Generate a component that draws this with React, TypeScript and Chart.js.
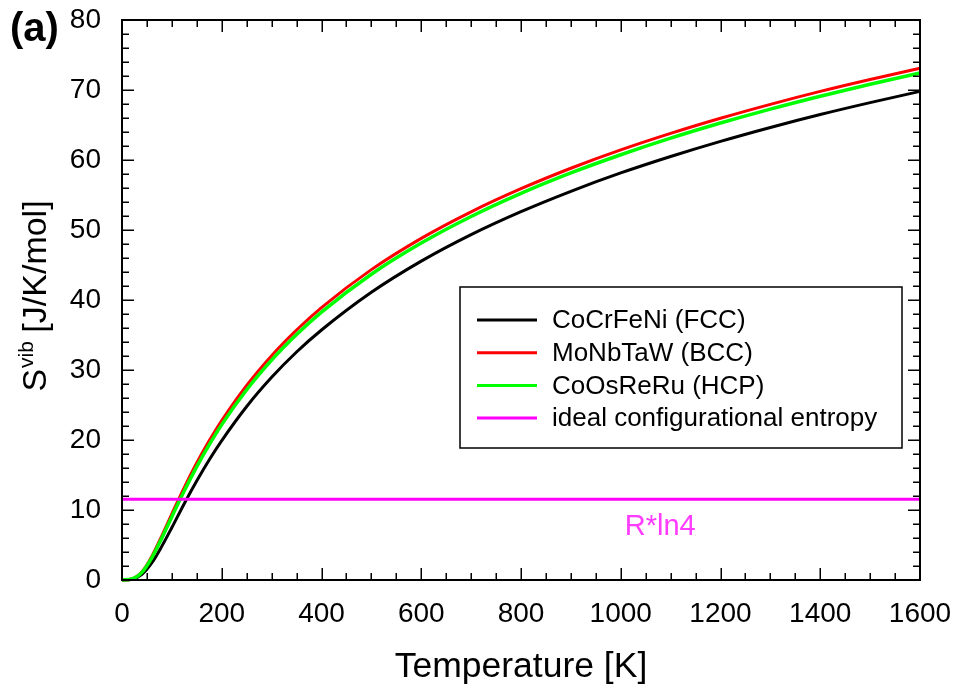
import React, { useEffect, useRef } from 'react';
import { Chart, registerables } from 'chart.js';

Chart.register(...registerables);

// ---- data ----
const temperatures = [0, 20, 40, 60, 80, 100, 125, 150, 175, 200, 250, 300, 350, 400, 500, 600, 700, 800, 900, 1000, 1100, 1200, 1300, 1400, 1500, 1600];
const fccValues = [0, 0.1, 0.81, 2.47, 4.84, 7.5, 10.94, 14.17, 17.18, 19.92, 24.79, 28.95, 32.57, 35.71, 41.1, 45.55, 49.34, 52.62, 55.53, 58.15, 60.5, 62.66, 64.65, 66.5, 68.2, 69.8];
const bccValues = [0, 0.15, 1.18, 3.41, 6.35, 9.46, 13.24, 16.74, 19.91, 22.79, 27.81, 32.05, 35.71, 38.92, 44.34, 48.81, 52.6, 55.9, 58.82, 61.44, 63.8, 65.96, 67.95, 69.8, 71.5, 73.1];
const hcpValues = [0, 0.14, 1.09, 3.2, 6.02, 9.05, 12.75, 16.2, 19.33, 22.2, 27.18, 31.41, 35.06, 38.26, 43.68, 48.13, 51.93, 55.23, 58.15, 60.75, 63.12, 65.28, 67.27, 69.11, 70.82, 72.44];
const idealTemperatures = [0, 1600];
const idealValues = [11.53, 11.53];

const seriesLabels = ['CoCrFeNi (FCC)', 'MoNbTaW (BCC)', 'CoOsReRu (HCP)', 'ideal configurational entropy'];
const seriesColors = ['#000000', '#ff0000', '#00ff00', '#ff00ff'];

const xMin = 0, xMax = 1600, xStep = 200, xMinorStep = 50;
const yMin = 0, yMax = 80, yStep = 10, yMinorStep = 2;

const annotationText = 'R*ln4';
const panelLabel = '(a)';
const xTitle = 'Temperature [K]';
const yTitleMain = 'S';
const yTitleSup = 'vib';
const yTitleRest = ' [J/K/mol]';

const FONT = '"Liberation Sans", Arial, Helvetica, sans-serif';

const toPoints = (xs: number[], ys: number[]) => xs.map((x, i) => ({ x, y: ys[i] }));

const decorPlugin = {
  id: 'decor',
  afterDatasetsDraw(chart: any) {
    const { ctx, chartArea: a, scales } = chart;
    const x = scales.x, y = scales.y;
    ctx.save();

    // inward ticks on all four sides
    ctx.strokeStyle = '#000';
    ctx.lineWidth = 1.5;
    ctx.beginPath();
    for (let v = xMin; v <= xMax; v += xMinorStep) {
      const px = Math.round(x.getPixelForValue(v)) + 0.25;
      const len = v % xStep === 0 ? 12 : 7;
      ctx.moveTo(px, a.bottom); ctx.lineTo(px, a.bottom - len);
      ctx.moveTo(px, a.top); ctx.lineTo(px, a.top + len);
    }
    for (let v = yMin; v <= yMax; v += yMinorStep) {
      const py = Math.round(y.getPixelForValue(v)) + 0.25;
      const len = v % yStep === 0 ? 12 : 7;
      ctx.moveTo(a.left, py); ctx.lineTo(a.left + len, py);
      ctx.moveTo(a.right, py); ctx.lineTo(a.right - len, py);
    }
    ctx.stroke();
    ctx.lineWidth = 2;
    ctx.strokeRect(a.left, a.top, a.right - a.left, a.bottom - a.top);

    // annotation
    ctx.fillStyle = '#ff3cff';
    ctx.font = `29px ${FONT}`;
    ctx.textAlign = 'left';
    ctx.textBaseline = 'alphabetic';
    ctx.fillText(annotationText, x.getPixelForValue(1008), y.getPixelForValue(6.4));

    // legend box
    const boxRight = a.right - 18;
    const boxTop = a.top + 267;
    const boxW = 442, boxH = 161;
    const boxLeft = boxRight - boxW;
    ctx.fillStyle = '#fff';
    ctx.fillRect(boxLeft, boxTop, boxW, boxH);
    ctx.strokeStyle = '#000';
    ctx.lineWidth = 1.5;
    ctx.strokeRect(boxLeft, boxTop, boxW, boxH);
    ctx.font = `26px ${FONT}`;
    ctx.textBaseline = 'middle';
    chart.data.datasets.forEach((ds: any, i: number) => {
      const cy = boxTop + 33 + i * 32.7;
      ctx.strokeStyle = ds.borderColor;
      ctx.lineWidth = 3;
      ctx.beginPath();
      ctx.moveTo(boxLeft + 17, cy); ctx.lineTo(boxLeft + 77, cy);
      ctx.stroke();
      ctx.fillStyle = '#000';
      ctx.fillText(ds.label, boxLeft + 92, cy + 1);
    });

    // panel label
    ctx.fillStyle = '#000';
    ctx.font = `bold 40px ${FONT}`;
    ctx.textBaseline = 'alphabetic';
    ctx.textAlign = 'left';
    ctx.fillText(panelLabel, 10, 41);

    // y-axis title with superscript
    const mainFont = `34px ${FONT}`;
    const supFont = `21px ${FONT}`;
    ctx.font = mainFont;
    const wS = ctx.measureText(yTitleMain).width;
    const wRest = ctx.measureText(yTitleRest).width;
    ctx.font = supFont;
    const wSup = ctx.measureText(yTitleSup).width;
    const total = wS + wSup + wRest;
    const cy = (a.top + a.bottom) / 2 - 4;
    ctx.translate(46, cy);
    ctx.rotate(-Math.PI / 2);
    let tx = -total / 2;
    ctx.font = mainFont;
    ctx.fillText(yTitleMain, tx, 0);
    tx += wS;
    ctx.font = supFont;
    ctx.fillText(yTitleSup, tx + 1, -13);
    tx += wSup;
    ctx.font = mainFont;
    ctx.fillText(yTitleRest, tx, 0);

    ctx.restore();
  },
};

export default function App() {
  const canvasRef = useRef<HTMLCanvasElement | null>(null);

  useEffect(() => {
    if (!canvasRef.current) return;
    const seriesValues = [fccValues, bccValues, hcpValues];
    const datasets: any[] = seriesValues.map((vals, i) => ({
      label: seriesLabels[i],
      data: toPoints(temperatures, vals),
      borderColor: seriesColors[i],
      backgroundColor: seriesColors[i],
      borderWidth: i === 2 ? 3.5 : 3,
      pointRadius: 0,
      cubicInterpolationMode: 'monotone',
      fill: false,
      clip: 4,
      order: 3 - i,
    }));
    datasets.push({
      label: seriesLabels[3],
      data: toPoints(idealTemperatures, idealValues),
      borderColor: seriesColors[3],
      backgroundColor: seriesColors[3],
      borderWidth: 3,
      pointRadius: 0,
      fill: false,
      clip: 4,
      order: 0,
    });

    const chart = new Chart(canvasRef.current, {
      type: 'line',
      data: { datasets },
      options: {
        animation: false,
        responsive: true,
        maintainAspectRatio: false,
        parsing: false as any,
        layout: { padding: { left: 0, right: 40, top: 20, bottom: 0 } },
        plugins: { legend: { display: false }, tooltip: { enabled: false } },
        scales: {
          x: {
            type: 'linear',
            min: xMin,
            max: xMax,
            grid: { display: false, drawTicks: false },
            border: { display: false },
            ticks: {
              stepSize: xStep,
              padding: 17,
              color: '#000',
              font: { family: FONT, size: 28 },
              callback: (v: any) => String(v),
            },
            title: { display: true, text: xTitle, color: '#000', font: { family: FONT, size: 35.5 }, padding: { top: 0, bottom: 7 } },
            afterFit: (s: any) => { s.height = 116; s.paddingLeft = 0; s.paddingRight = 0; },
          },
          y: {
            type: 'linear',
            min: yMin,
            max: yMax,
            grid: { display: false, drawTicks: false },
            border: { display: false },
            ticks: {
              stepSize: yStep,
              padding: 21,
              color: '#000',
              font: { family: FONT, size: 28 },
              callback: (v: any) => String(v),
            },
            afterFit: (s: any) => { s.width = 122; s.paddingTop = 0; s.paddingBottom = 0; },
          },
        },
      },
      plugins: [decorPlugin],
    });
    return () => chart.destroy();
  }, []);

  return (
    <div style={{ position: 'fixed', left: 0, top: 0, width: 960, height: 696, background: '#fff' }}>
      <canvas ref={canvasRef} />
    </div>
  );
}
